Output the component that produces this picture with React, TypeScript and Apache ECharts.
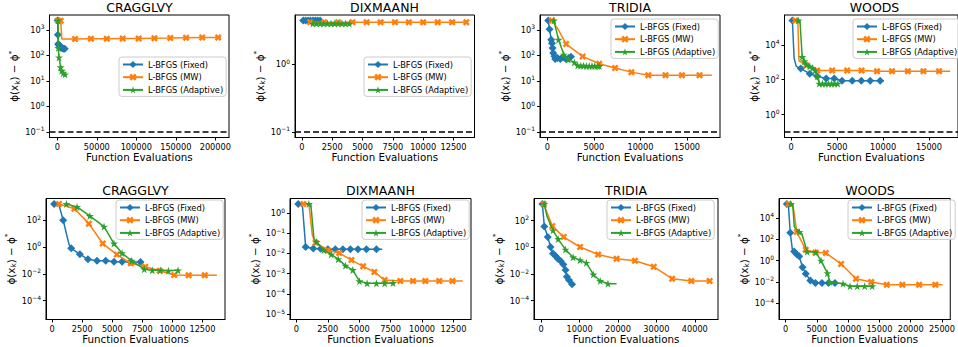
import React, { useEffect, useRef } from "react";
import * as echarts from "echarts";

type Pt = number[]; // [x, y] marked point; [x, y, 0] = line vertex without marker

const seriesNames = ["L-BFGS (Fixed)", "L-BFGS (MW)", "L-BFGS (Adaptive)"];
const titles = ["CRAGGLVY", "DIXMAANH", "TRIDIA", "WOODS", "CRAGGLVY", "DIXMAANH", "TRIDIA", "WOODS"];
const refLines = [0.1, 0.1, 0.1, 0.1, 1e-5, 1e-5, 1e-5, 1e-5];
const xTicks = [
  [0, 50000, 100000, 150000, 200000],
  [0, 2500, 5000, 7500, 10000, 12500],
  [0, 5000, 10000, 15000],
  [0, 5000, 10000, 15000],
  [0, 2500, 5000, 7500, 10000, 12500],
  [0, 2500, 5000, 7500, 10000, 12500],
  [0, 10000, 20000, 30000, 40000],
  [0, 5000, 10000, 15000, 20000, 25000],
];
const yTickExps = [
  [-1, 0, 1, 2, 3],
  [-1, 0],
  [-1, 0, 1, 2, 3],
  [0, 2, 4],
  [-4, -2, 0, 2],
  [-5, -4, -3, -2, -1, 0],
  [-4, -2, 0, 2],
  [-4, -2, 0, 2, 4],
];

// ---- Top row ----
const cragTopFixed: Pt[] = [[500, 2300], [800, 640], [1200, 280], [2200, 250], [3500, 230], [5000, 200], [6500, 190], [8000, 180], [9500, 180]];
const cragTopMW: Pt[] = [[800, 2300], [4300, 2250], [5800, 440, 0], [22500, 440], [42600, 445], [62700, 450], [82800, 455], [103000, 460], [123000, 470], [143000, 475], [163000, 485], [183400, 495], [203600, 500], [207000, 500, 0]];
const cragTopAdaptive: Pt[] = [[1000, 2300], [1300, 194], [2200, 83], [4300, 34], [5600, 25], [7600, 20], [9800, 18]];

const dixTopFixed: Pt[] = [[100, 4.47], [300, 4.47], [500, 4.47], [700, 4.47], [900, 4.47], [1100, 4.47], [1300, 4.47], [1500, 4.47]];
const dixTopMW: Pt[] = [[680, 4.22], [1830, 4.22], [2980, 4.22], [4170, 4.22], [5340, 4.22], [6490, 4.22], [7670, 4.22], [8820, 4.22], [10000, 4.22], [11200, 4.22], [12390, 4.22], [13560, 4.22]];
const dixTopAdaptive: Pt[] = [[900, 4.03], [1200, 4.03], [1500, 4.03], [1800, 4.03], [2100, 4.03], [2400, 4.03], [2700, 4.03], [3000, 4.03], [3300, 4.03], [3600, 4.03], [3900, 4.03]];

const triTopFixed: Pt[] = [[100, 2300], [250, 1060], [420, 410], [500, 300], [570, 194], [640, 124], [780, 92], [850, 72], [1100, 78], [1400, 72], [1700, 85], [2000, 72], [2300, 78], [2550, 88]];
const triTopMW: Pt[] = [[500, 2300], [1200, 1000, 0], [2025, 277], [3800, 91], [5580, 47], [7280, 32], [9030, 22], [10840, 16.6], [12690, 16.6], [14460, 16.6], [16340, 16.6], [17660, 16.6, 0]];
const triTopAdaptive: Pt[] = [[710, 2300], [1210, 410], [1780, 107], [2270, 68], [2910, 53], [3270, 40], [3600, 39], [3900, 39], [4200, 38], [4500, 38], [4800, 38], [5100, 38], [5400, 38], [5600, 38]];

const woodsTopFixed: Pt[] = [[130, 245000], [320, 1700, 0], [550, 575, 0], [1040, 430], [2020, 220], [2830, 155], [3810, 115], [4690, 115], [5540, 87], [6650, 87], [7630, 87], [8600, 87], [9680, 87], [10100, 87, 0]];
const woodsTopMW: Pt[] = [[450, 245000], [720, 245000, 0], [850, 1200, 0], [1630, 660], [2830, 340], [4460, 340], [6090, 340], [7660, 340], [9350, 300], [10980, 300], [12700, 300], [14400, 300], [16100, 300], [17300, 300, 0]];
const woodsTopAdaptive: Pt[] = [[780, 245000], [950, 245000, 0], [1200, 2000], [1430, 1130], [1690, 720], [2020, 575], [2340, 470], [2600, 340], [2830, 155], [3060, 59], [3400, 59], [3730, 59], [4060, 59], [4400, 59], [4730, 59], [5060, 59]];

// ---- Bottom row ----
const cragBotFixed: Pt[] = [[160, 1600], [550, 1500, 0], [915, 98], [1400, 1.5, 0], [1580, 0.8], [2300, 0.29], [2970, 0.12], [3725, 0.093], [4450, 0.093], [5140, 0.08], [5810, 0.08], [6535, 0.075], [7340, 0.075], [7600, 0.075, 0]];
const cragBotMW: Pt[] = [[560, 1600], [1850, 710], [3050, 55], [4205, 1.8], [5380, 0.27], [6535, 0.062], [7740, 0.033], [8945, 0.017], [10150, 0.008], [11355, 0.0078], [12690, 0.0078], [13700, 0.0078, 0]];
const cragBotAdaptive: Pt[] = [[1180, 1600], [2065, 960], [3130, 205], [4310, 33], [5140, 1.8], [5810, 0.34], [6615, 0.093], [7660, 0.022], [8330, 0.018], [8995, 0.018], [9665, 0.017], [10470, 0.018]];

const dixBotFixed: Pt[] = [[150, 2.8], [475, 2.8, 0], [740, 0.021], [1350, 0.0175], [1930, 0.017], [2510, 0.016], [3100, 0.016], [3700, 0.016], [4300, 0.016], [4900, 0.016], [5575, 0.016], [6370, 0.016], [6830, 0.016, 0]];
const dixBotMW: Pt[] = [[555, 2.8], [1000, 2.8, 0], [1270, 0.08, 0], [1530, 0.034], [2505, 0.0145], [3410, 0.0105], [4385, 0.0047], [5310, 0.0023], [6210, 0.0012], [7030, 0.00048], [8270, 0.00043], [9280, 0.00043], [10260, 0.00043], [11370, 0.00043], [12420, 0.00043], [13240, 0.00043, 0]];
const dixBotAdaptive: Pt[] = [[1000, 2.8], [1150, 2.8, 0], [1400, 0.054, 0], [1610, 0.037], [2190, 0.0145], [2775, 0.0089], [3330, 0.0052], [3910, 0.0025], [4490, 0.0015], [5020, 0.00042], [5630, 0.00033], [6370, 0.00033], [7030, 0.00033], [7690, 0.00034]];

const triBotFixed: Pt[] = [[300, 1800], [815, 37], [1710, 5.9], [2440, 1.07], [3070, 0.34], [3800, 0.22], [4340, 0.14], [5050, 0.093], [5780, 0.052], [6330, 0.02], [6680, 0.0063], [7220, 0.0036], [8040, 0.0017]];
const triBotMW: Pt[] = [[625, 1800], [2880, 41], [5870, 5.9], [10130, 1.07], [14830, 0.29], [19630, 0.14], [24430, 0.1], [29320, 0.035], [34100, 0.0045], [39100, 0.003], [43870, 0.003]];
const triBotAdaptive: Pt[] = [[815, 1800], [1520, 205, 0], [3070, 19], [4425, 4.2], [6330, 0.68], [8310, 0.18], [10130, 0.11], [11760, 0.069], [13575, 0.0093], [15370, 0.003], [17380, 0.0019], [19630, 0.0019, 0]];

const woodsBotFixed: Pt[] = [[200, 200000], [450, 200000, 0], [750, 410], [1100, 10, 0], [1370, 7], [1780, 4], [2190, 2.5], [2720, 0.24], [3230, 0.059], [3960, 0.014], [4780, 0.008], [5820, 0.008], [6860, 0.008], [7890, 0.008]];
const woodsBotMW: Pt[] = [[500, 200000], [1170, 200000, 0], [1790, 480], [3230, 10.5], [4780, 5.9], [6440, 5.1], [8880, 0.49], [11260, 0.02], [13700, 0.01], [16180, 0.0056], [18670, 0.0056], [21350, 0.0056], [23950, 0.0056], [25080, 0.0056, 0]];
const woodsBotAdaptive: Pt[] = [[850, 200000], [1150, 180000, 0], [1400, 1500, 0], [2200, 480], [2600, 350, 0], [3450, 6.8], [4830, 6], [5670, 1.0], [6700, 0.067], [7070, 0.01], [9190, 0.0069], [10310, 0.004], [11460, 0.004], [12650, 0.004], [13850, 0.004]];

const panels: Pt[][][] = [
  [cragTopFixed, cragTopMW, cragTopAdaptive],
  [dixTopFixed, dixTopMW, dixTopAdaptive],
  [triTopFixed, triTopMW, triTopAdaptive],
  [woodsTopFixed, woodsTopMW, woodsTopAdaptive],
  [cragBotFixed, cragBotMW, cragBotAdaptive],
  [dixBotFixed, dixBotMW, dixBotAdaptive],
  [triBotFixed, triBotMW, triBotAdaptive],
  [woodsBotFixed, woodsBotMW, woodsBotAdaptive],
];

// ---- layout / style ----
const FONT = "DejaVu Sans";
const colors = ["#1f77b4", "#ff7f0e", "#2ca02c"];
const symbols = [
  "diamond",
  "path://M1,0L2,1L3,0L4,1L3,2L4,3L3,4L2,3L1,4L0,3L1,2L0,1Z",
  "path://M50,0L61.2,34.5L97.6,34.5L68.2,55.9L79.4,90.5L50,69.1L20.6,90.5L31.8,55.9L2.4,34.5L38.8,34.5Z",
];
const symbolSizes = [8, 7, 8];
const gridBoxes = [
  [49.5, 15, 179.5, 122.5],
  [295, 15, 179.5, 122.5],
  [540, 15, 180, 122.5],
  [784.5, 15, 186, 122.5],
  [46, 198.5, 179, 121],
  [290, 198.5, 181, 121],
  [534, 198.5, 184, 121],
  [779, 198.5, 182, 121],
];
const titleCenters = [139.5, 384.5, 630, 874.5, 135.5, 380.5, 626, 870];
const yNameGaps = [22, 20.5, 21, 18, 19, 18.5, 19, 20.5];
const legendPos = [
  [119, 57], [364, 57], [611, 19], [853, 19],
  [116, 200], [362, 200], [607, 200], [848, 200],
];

function logLabel(v: number) {
  const e = Math.round(Math.log10(v));
  return "10{s|" + (e < 0 ? "−" + String(-e) : String(e)) + "}";
}

function linRange(vals: number[]) {
  const lo = Math.min(...vals), hi = Math.max(...vals);
  const m = (hi - lo) * 0.05;
  return [lo - m, hi + m];
}
function logRange(vals: number[]) {
  const lo = Math.log10(Math.min(...vals)), hi = Math.log10(Math.max(...vals));
  const m = (hi - lo) * 0.05;
  return [Math.pow(10, lo - m), Math.pow(10, hi + m)];
}

function buildOption() {
  const grid: any[] = [], xAxis: any[] = [], yAxis: any[] = [], title: any[] = [], legend: any[] = [], series: any[] = [];
  panels.forEach((panel, i) => {
    const [gl, gt, gw, gh] = gridBoxes[i];
    grid.push({ left: gl, top: gt, width: gw, height: gh, show: true, borderColor: "#000", borderWidth: 1, backgroundColor: "#fff" });
    const xs: number[] = [], ys: number[] = [refLines[i]];
    panel.forEach((s) => s.forEach((p) => { xs.push(p[0]); ys.push(p[1]); }));
    const [xmin, xmax] = linRange(xs);
    const [ymin, ymax] = logRange(ys);
    const yVals = yTickExps[i].map((e) => Math.pow(10, e));
    xAxis.push({
      type: "value", gridIndex: i, min: xmin, max: xmax,
      axisLine: { show: true, onZero: false, lineStyle: { color: "#000", width: 1 } },
      splitLine: { show: false },
      axisTick: { show: true, length: 3, customValues: xTicks[i], lineStyle: { color: "#000" } },
      axisLabel: { customValues: xTicks[i], formatter: (v: number) => String(v), fontSize: 8.2, color: "#000", fontFamily: FONT, margin: 5 },
      name: "Function Evaluations", nameLocation: "middle", nameGap: 14.5,
      nameTextStyle: { fontSize: 10.3, color: "#000", fontFamily: FONT },
    });
    yAxis.push({
      type: "log", logBase: 10, gridIndex: i, min: ymin, max: ymax,
      axisLine: { show: true, onZero: false, lineStyle: { color: "#000", width: 1 } },
      splitLine: { show: false },
      axisTick: { show: true, length: 3, customValues: yVals, lineStyle: { color: "#000" } },
      axisLabel: {
        customValues: yVals, formatter: (v: number) => logLabel(v), fontSize: 8.2, color: "#000", fontFamily: FONT, margin: 5,
        rich: { s: { fontSize: 6, color: "#000", fontFamily: FONT, padding: [0, 0, 6, 0] } },
      },
      name: "{a|ϕ(x}{b|k}{a|) − ϕ}{c|*}", nameLocation: "middle", nameGap: yNameGaps[i],
      nameTextStyle: {
        fontSize: 10.3, color: "#000", fontFamily: FONT,
        rich: {
          a: { fontSize: 10.3, color: "#000", fontFamily: FONT },
          b: { fontSize: 7.5, color: "#000", fontFamily: FONT, padding: [6, 0, 0, 0] },
          c: { fontSize: 7.5, color: "#000", fontFamily: FONT, padding: [0, 0, 6, 0] },
        },
      },
    });
    title.push({
      text: titles[i], left: titleCenters[i], top: gt - 14.5, textAlign: "center", padding: 0,
      textStyle: { fontSize: 12.5, fontWeight: "normal", color: "#000", fontFamily: FONT },
    });
    legend.push({
      data: seriesNames, left: legendPos[i][0], top: legendPos[i][1], orient: "vertical",
      itemWidth: 20, itemHeight: 9, itemGap: 3.7, padding: [3, 3, 2, 3],
      backgroundColor: "rgba(255,255,255,0.8)", borderColor: "#cccccc", borderWidth: 1, borderRadius: 3,
      textStyle: { fontSize: 8.3, color: "#000", fontFamily: FONT, lineHeight: 9 },
      selectedMode: false, z: 10,
    });
    panel.forEach((pts, k) => {
      series.push({
        type: "line", name: seriesNames[k], xAxisIndex: i, yAxisIndex: i,
        data: pts.map((p) => (p[2] === 0 ? { value: [p[0], p[1]], symbol: "none" } : [p[0], p[1]])),
        symbol: symbols[k], symbolSize: symbolSizes[k], showSymbol: true,
        lineStyle: { width: 1.5, color: colors[k] }, itemStyle: { color: colors[k] },
        emphasis: { disabled: true }, silent: true, z: 2 + k,
        markLine: k === 0 ? {
          silent: true, symbol: "none", label: { show: false },
          lineStyle: { color: "#000", type: [6, 3], width: 1.5 },
          emphasis: { disabled: true },
          data: [{ yAxis: refLines[i] }],
        } : undefined,
      });
    });
  });
  return { animation: false, backgroundColor: "#fff", grid, xAxis, yAxis, title, legend, series };
}

export default function App() {
  const ref = useRef<HTMLDivElement>(null);
  useEffect(() => {
    if (!ref.current) return;
    const chart = echarts.init(ref.current, undefined, { renderer: "svg" });
    chart.setOption(buildOption() as any);
    return () => chart.dispose();
  }, []);
  return <div ref={ref} style={{ position: "absolute", left: 0, top: 0, width: 958, height: 347 }} />;
}
